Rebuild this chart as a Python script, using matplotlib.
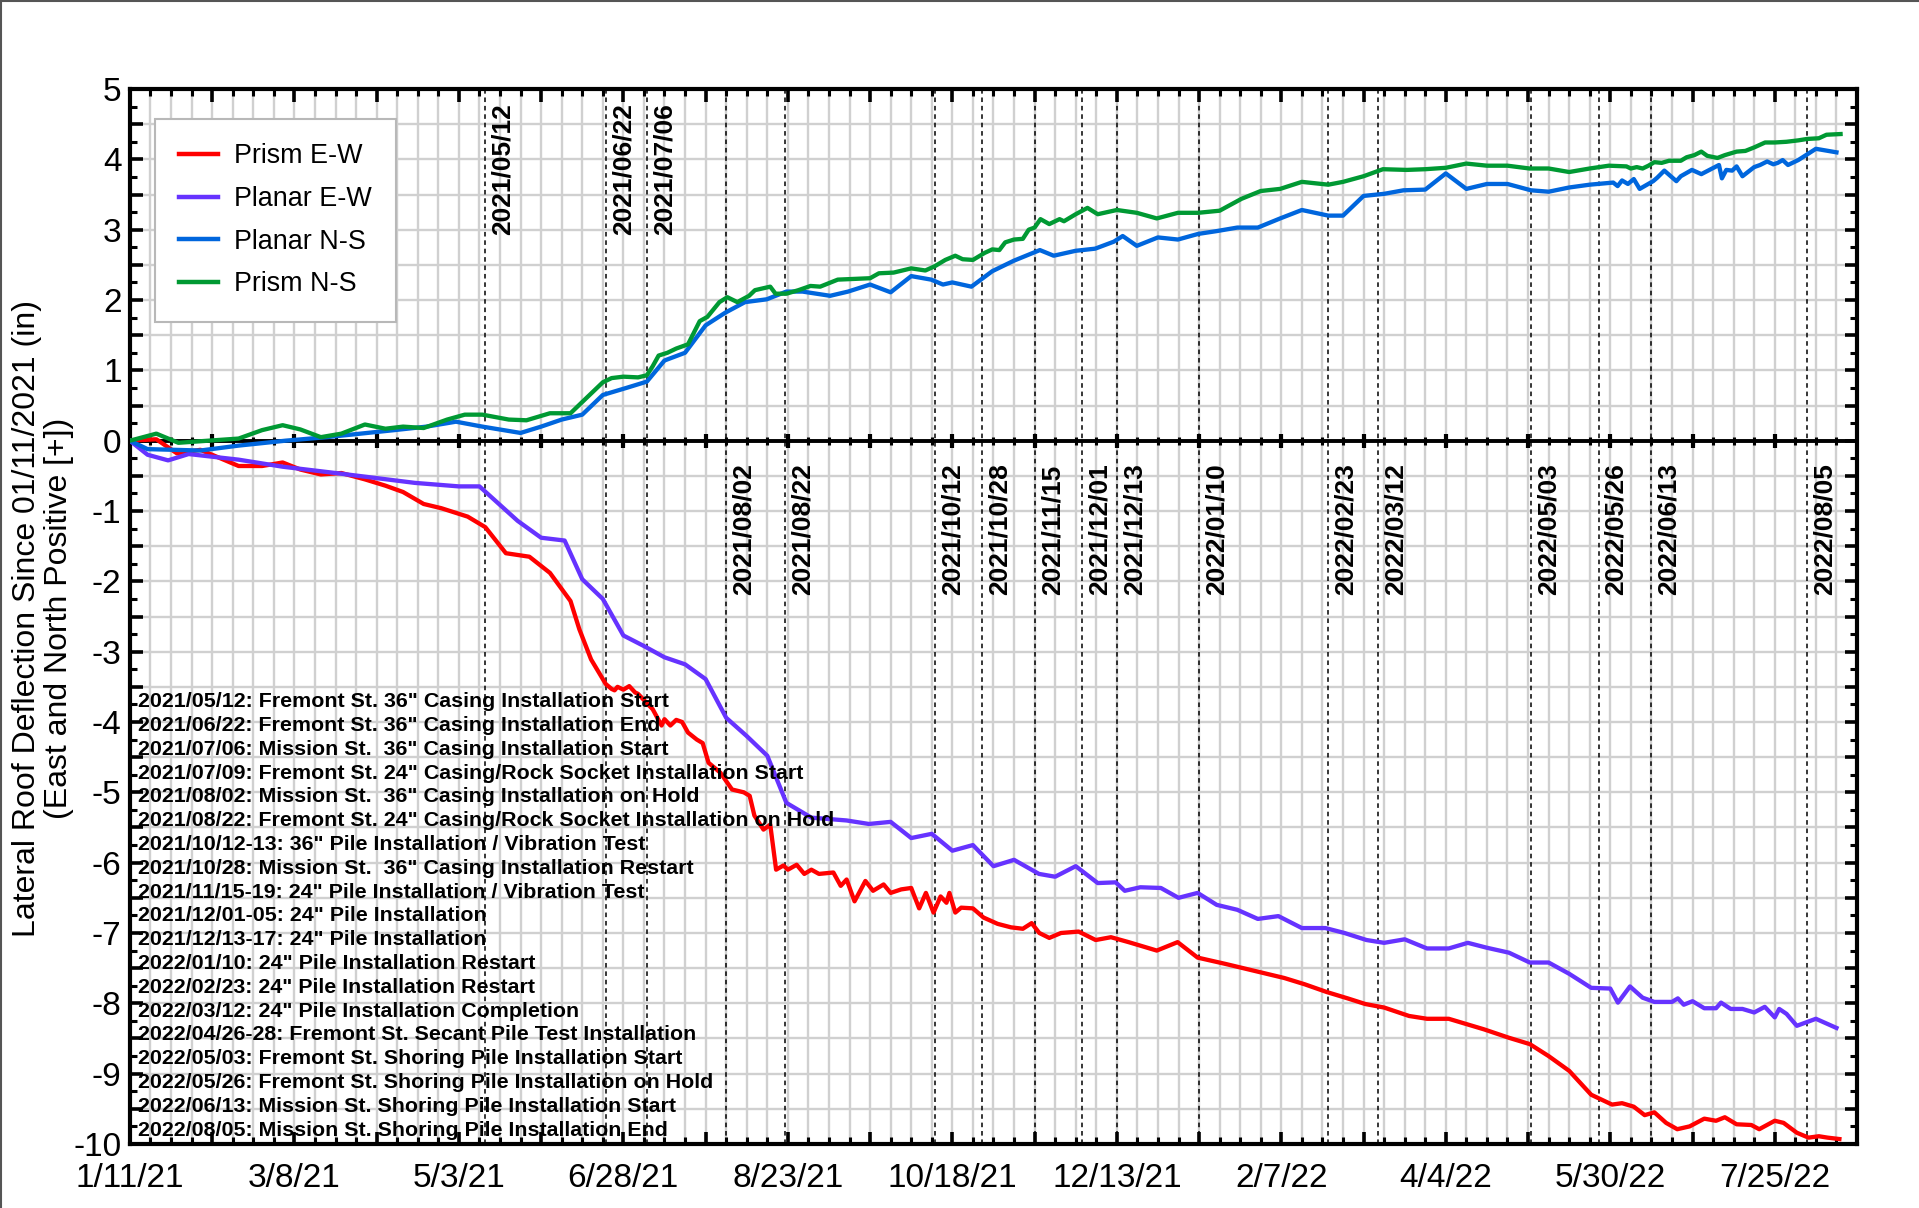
import numpy as np
import matplotlib
matplotlib.use("Agg")
import matplotlib.pyplot as plt
import matplotlib.dates as mdates
from matplotlib.ticker import FixedLocator, FuncFormatter, MultipleLocator
from matplotlib.lines import Line2D
import datetime as dt

plt.rcParams['font.family'] = ['Liberation Sans', 'DejaVu Sans']
plt.rcParams['axes.unicode_minus'] = False

# day 0 = 1/11/21
start = dt.date(2021, 1, 11)
end_day = 588

# ---- Prism E-W (red)
ew_prism_d = [0, 9, 16, 24, 37, 45, 52, 58, 65, 72, 80, 87, 93, 100, 106, 115, 121, 128, 136, 143,
              150, 153, 157, 162, 164, 165, 166, 167, 168, 170, 172, 173, 178, 181, 182, 184, 186, 188,
              190, 193, 195, 197, 201, 205, 209, 211, 212.6, 215.7, 218, 220, 222.5, 224, 227, 229.6,
              232, 234.6, 239.5, 242, 244, 246.7, 250.4, 253, 256.6, 259, 262.6, 266, 268.7, 271,
              273.6, 276, 278, 279, 281, 283, 287, 290.6, 295.4, 300, 304, 307, 309.6, 313, 317, 323,
              328.8, 334, 340, 349.6, 356.7, 363.5, 373, 383, 393, 400, 407.5, 414.6, 420.6, 427,
              435.5, 441.6, 449, 461, 469.5, 476.6, 483, 490, 497.5, 504.6, 508, 512, 515.7, 519, 523,
              526.8, 531, 536, 540, 543, 547, 552, 554.7, 560, 563, 567.5, 571.5, 575, 578, 582]
ew_prism_v = [0, 0.02, -0.18, -0.13, -0.36, -0.36, -0.31, -0.41, -0.48, -0.46, -0.55, -0.64, -0.73,
              -0.90, -0.96, -1.08, -1.23, -1.60, -1.65, -1.88, -2.28, -2.68, -3.11, -3.46, -3.53, -3.55,
              -3.50, -3.52, -3.54, -3.49, -3.58, -3.60, -3.82, -4.05, -3.96, -4.05, -3.97, -4.00, -4.15,
              -4.25, -4.30, -4.58, -4.72, -4.96, -5.00, -5.05, -5.33, -5.53, -5.46, -6.10, -6.04,
              -6.10, -6.03, -6.16, -6.10, -6.16, -6.14, -6.33, -6.24, -6.55, -6.26, -6.40, -6.31,
              -6.43, -6.38, -6.36, -6.65, -6.43, -6.71, -6.48, -6.57, -6.43, -6.71, -6.64, -6.65,
              -6.78, -6.87, -6.92, -6.94, -6.86, -7.00, -7.07, -7.00, -6.98, -7.10, -7.06, -7.13,
              -7.25, -7.13, -7.35, -7.44, -7.54, -7.64, -7.73, -7.84, -7.93, -8.01, -8.06, -8.18,
              -8.22, -8.22, -8.37, -8.49, -8.58, -8.75, -8.96, -9.30, -9.44, -9.42, -9.47, -9.59,
              -9.55, -9.70, -9.79, -9.75, -9.64, -9.67, -9.62, -9.72, -9.73, -9.79, -9.67, -9.70,
              -9.84, -9.91, -9.89, -9.91, -9.93]

# ---- Planar E-W (purple)
ew_planar_d = [0, 6, 13, 20, 37, 52, 72, 97, 112, 119, 132, 140, 148, 154, 161, 168, 175, 182, 189,
               196, 203, 210, 217, 223.5, 232, 244, 251.6, 259, 266, 273, 280, 287, 294, 301, 309.5,
               315, 322, 329.5, 335.6, 338.7, 344, 351, 357, 363.5, 370, 377, 384, 391, 399, 407,
               413.5, 421, 427, 434, 441.6, 449, 455.5, 462, 469.5, 476.6, 483, 490, 497.5, 504,
               506.6, 510.7, 515, 519, 525, 527, 529, 532, 536, 540, 541.7, 545, 549, 553, 556.6,
               560, 561.5, 564, 567.5, 574, 581]
ew_planar_v = [0, -0.20, -0.28, -0.19, -0.27, -0.37, -0.47, -0.60, -0.65, -0.65, -1.14, -1.38, -1.42,
               -1.97, -2.25, -2.77, -2.92, -3.08, -3.18, -3.39, -3.94, -4.20, -4.48, -5.15, -5.36,
               -5.40, -5.45, -5.42, -5.65, -5.59, -5.83, -5.75, -6.05, -5.96, -6.16, -6.20, -6.05,
               -6.29, -6.28, -6.40, -6.35, -6.36, -6.50, -6.43, -6.60, -6.67, -6.80, -6.76, -6.93,
               -6.93, -7.00, -7.10, -7.14, -7.09, -7.22, -7.22, -7.14, -7.21, -7.28, -7.42, -7.42,
               -7.58, -7.78, -7.79, -7.99, -7.76, -7.92, -7.98, -7.98, -7.93, -8.02, -7.97, -8.07,
               -8.07, -7.99, -8.08, -8.08, -8.13, -8.05, -8.20, -8.08, -8.15, -8.32, -8.22, -8.35]

# ---- Planar N-S (blue)
ns_planar_d = [0, 6, 24, 37, 53, 67, 90, 101, 111, 120, 133, 140, 147, 154, 161, 169, 176, 182, 189,
               196, 202.7, 209.4, 216.8, 223.5, 229, 238.4, 244.5, 252, 259, 266, 272.8, 276.8, 280,
               286.5, 293.6, 301, 309.8, 314.5, 322, 328.6, 335, 338, 342.8, 350, 356.8, 363.7, 370,
               377, 384, 391.6, 399, 408, 413, 420, 427, 433.6, 441, 448, 455, 462, 469, 477, 483,
               490, 497, 505, 506.5, 508, 510, 512, 514, 518.6, 520, 522.4, 526.5, 528, 531.8, 535,
               541, 542, 543.5, 545.5, 547, 549, 553, 555, 557.4, 559.5, 561, 562.7, 564.5, 568,
               574, 581]
ns_planar_v = [0, -0.12, -0.14, -0.07, 0.0, 0.05, 0.15, 0.20, 0.27, 0.20, 0.11, 0.20, 0.30, 0.37,
               0.65, 0.75, 0.84, 1.14, 1.25, 1.64, 1.82, 1.97, 2.01, 2.12, 2.12, 2.06, 2.12, 2.22,
               2.11, 2.34, 2.29, 2.22, 2.25, 2.19, 2.41, 2.56, 2.71, 2.63, 2.70, 2.73, 2.83, 2.91,
               2.77, 2.89, 2.86, 2.94, 2.98, 3.03, 3.03, 3.16, 3.28, 3.20, 3.20, 3.48, 3.51, 3.56,
               3.57, 3.80, 3.58, 3.65, 3.65, 3.56, 3.54, 3.60, 3.64, 3.67, 3.62, 3.70, 3.65, 3.72,
               3.58, 3.69, 3.74, 3.84, 3.69, 3.76, 3.85, 3.79, 3.92, 3.73, 3.85, 3.84, 3.90, 3.76,
               3.89, 3.92, 3.97, 3.93, 3.95, 3.99, 3.92, 3.99, 4.15, 4.10]

# ---- Prism N-S (green)
ns_prism_d = [0, 9, 16.5, 37, 45, 52, 58, 65, 72, 80, 87, 93, 100, 108, 114, 120, 129, 135, 143, 150,
              161, 164, 168, 173, 176, 178, 180, 183, 186, 190, 194, 196.6, 200.7, 203.4, 206.8,
              210.8, 212.8, 218, 219.8, 223.5, 227.6, 231.7, 235, 241, 246.5, 252, 255, 260, 266,
              270.8, 274, 277.6, 281, 283.5, 287, 291, 293.6, 296, 298, 301, 304, 306, 308, 310,
              313, 316.5, 318, 322, 326, 329.5, 336, 342.8, 349.6, 356.8, 363.7, 371, 378.5, 385,
              391.6, 399, 408, 413, 420, 426.6, 434.7, 441, 448, 455, 462, 469, 476.5, 483, 490,
              497, 503.5, 509.5, 511, 513, 515, 517, 519, 521.5, 524, 528, 530, 532.6, 535, 537,
              540.5, 543, 547, 550, 553, 556.7, 560, 564, 568, 571, 575, 577.6, 582.4]
ns_prism_v = [0, 0.10, -0.03, 0.03, 0.15, 0.22, 0.16, 0.05, 0.10, 0.23, 0.17, 0.20, 0.18, 0.30, 0.37,
              0.37, 0.30, 0.29, 0.39, 0.39, 0.83, 0.89, 0.91, 0.90, 0.93, 1.06, 1.21, 1.25, 1.31,
              1.37, 1.70, 1.76, 1.97, 2.04, 1.97, 2.06, 2.14, 2.19, 2.09, 2.09, 2.14, 2.20, 2.19,
              2.29, 2.30, 2.31, 2.38, 2.39, 2.45, 2.42, 2.48, 2.57, 2.63, 2.58, 2.57, 2.67, 2.72,
              2.71, 2.82, 2.86, 2.87, 3.00, 3.03, 3.15, 3.08, 3.15, 3.12, 3.22, 3.31, 3.22, 3.28,
              3.24, 3.16, 3.24, 3.24, 3.27, 3.44, 3.55, 3.58, 3.68, 3.64, 3.68, 3.76, 3.86, 3.85,
              3.86, 3.88, 3.94, 3.91, 3.91, 3.87, 3.87, 3.82, 3.87, 3.91, 3.90, 3.87, 3.89, 3.87,
              3.91, 3.96, 3.95, 3.98, 3.98, 4.03, 4.06, 4.11, 4.05, 4.02, 4.06, 4.11, 4.12, 4.17,
              4.24, 4.24, 4.25, 4.27, 4.29, 4.30, 4.35, 4.36]

# ---- construction events (dashed lines + vertical labels)
event_dates = ["2021/05/12", "2021/06/22", "2021/07/06", "2021/08/02", "2021/08/22", "2021/10/12",
               "2021/10/28", "2021/11/15", "2021/12/01", "2021/12/13", "2022/01/10", "2022/02/23",
               "2022/03/12", "2022/05/03", "2022/05/26", "2022/06/13", "2022/08/05"]
upper_labels = ["2021/05/12", "2021/06/22", "2021/07/06"]

notes = ['2021/05/12: Fremont St. 36" Casing Installation Start',
         '2021/06/22: Fremont St. 36" Casing Installation End',
         '2021/07/06: Mission St.  36" Casing Installation Start',
         '2021/07/09: Fremont St. 24" Casing/Rock Socket Installation Start',
         '2021/08/02: Mission St.  36" Casing Installation on Hold',
         '2021/08/22: Fremont St. 24" Casing/Rock Socket Installation on Hold',
         '2021/10/12-13: 36" Pile Installation / Vibration Test',
         '2021/10/28: Mission St.  36" Casing Installation Restart',
         '2021/11/15-19: 24" Pile Installation / Vibration Test',
         '2021/12/01-05: 24" Pile Installation',
         '2021/12/13-17: 24" Pile Installation',
         '2022/01/10: 24" Pile Installation Restart',
         '2022/02/23: 24" Pile Installation Restart',
         '2022/03/12: 24" Pile Installation Completion',
         '2022/04/26-28: Fremont St. Secant Pile Test Installation',
         '2022/05/03: Fremont St. Shoring Pile Installation Start',
         '2022/05/26: Fremont St. Shoring Pile Installation on Hold',
         '2022/06/13: Mission St. Shoring Pile Installation Start',
         '2022/08/05: Mission St. Shoring Pile Installation End']


t0 = mdates.date2num(start)

def days2num(d):
    return t0 + np.asarray(d, dtype=float)


fig = plt.figure(figsize=(19.19, 12.08), dpi=100)
ax = fig.add_axes([0.0677, 0.053, 0.9, 0.8733])

# grid
ax.set_axisbelow(True)
ax.xaxis.set_major_locator(FixedLocator(t0 + np.arange(0, end_day + 1, 28)))
ax.xaxis.set_minor_locator(FixedLocator(t0 + np.arange(0, end_day + 1, 7)))
ax.yaxis.set_major_locator(MultipleLocator(0.5))
ax.yaxis.set_minor_locator(MultipleLocator(0.25))
ax.grid(which='both', axis='x', color='#d0d0d0', lw=1.7)
ax.grid(which='major', axis='y', color='#d0d0d0', lw=1.7)

# event lines
for e in event_dates:
    d = mdates.date2num(dt.datetime.strptime(e, "%Y/%m/%d"))
    ax.axvline(d, color='black', lw=1.1, dashes=(3, 2.5), zorder=2)
    yb = 2.92 if e in upper_labels else -2.2
    ax.annotate(e, xy=(d, yb), xytext=(4, 0), textcoords='offset points', rotation=90,
                ha='left', va='bottom', fontsize=19, fontweight='bold', zorder=5)

# zero line with its own ticks
ax.axhline(0, color='black', lw=2.8, zorder=3)
wk = t0 + np.arange(7, end_day, 7)
ax.plot(wk, np.zeros(len(wk)), ls='none', marker='|', ms=6, mew=2.2, color='black', zorder=3)
mj = t0 + np.arange(28, end_day, 28)
ax.plot(mj, np.zeros(len(mj)), ls='none', marker='|', ms=10, mew=3, color='black', zorder=3)

# data
ax.plot(days2num(ew_prism_d), ew_prism_v, color='#ff0000', lw=3.1, label='Prism E-W', zorder=4)
ax.plot(days2num(ew_planar_d), ew_planar_v, color='#6633ff', lw=3.1, label='Planar E-W', zorder=4)
ax.plot(days2num(ns_planar_d), ns_planar_v, color='#0066dd', lw=3.1, label='Planar N-S', zorder=4)
ax.plot(days2num(ns_prism_d), ns_prism_v, color='#009933', lw=3.1, label='Prism N-S', zorder=4)

# notes block
for i, n in enumerate(notes):
    ax.text(t0 + 2.8, -3.71 - i * 0.3385, n, fontsize=15.4, fontweight='bold',
            ha='left', va='center', zorder=6)

ax.set_xlim(t0, t0 + end_day)
ax.set_ylim(-10, 5)


def xfmt(x, pos):
    d = mdates.num2date(x)
    k = int(round(x - t0))
    if k % 56 != 0:
        return ''
    return f"{d.month}/{d.day}/{d.year % 100}"


def yfmt(y, pos):
    if abs(y - round(y)) > 1e-6:
        return ''
    return f"{int(round(y))}"


ax.xaxis.set_major_formatter(FuncFormatter(xfmt))
ax.yaxis.set_major_formatter(FuncFormatter(yfmt))
ax.tick_params(which='both', direction='in', top=True, right=True, color='black')
ax.tick_params(which='major', length=9, width=2.6, labelsize=24)
ax.tick_params(which='minor', length=5, width=2.2)
ax.tick_params(axis='x', which='major', pad=14)
ax.tick_params(axis='y', which='major', pad=6)
for s in ax.spines.values():
    s.set_linewidth(3)

leg = ax.legend(loc='upper left', bbox_to_anchor=(0.0145, 0.9716), borderaxespad=0,
                fontsize=19.4, handlelength=1.45, handletextpad=0.6, labelspacing=0.62,
                borderpad=0.9, fancybox=False, framealpha=1, edgecolor='#b8b8b8')
leg.get_frame().set_linewidth(1.5)
for l in leg.get_lines():
    l.set_linewidth(3.2)

fig.text(0.0141, 0.4878, "Lateral Roof Deflection Since 01/11/2021 (in)", rotation=90,
         ha='center', va='center', fontsize=23)
fig.text(0.0307, 0.4878, "(East and North Positive [+])", rotation=90,
         ha='center', va='center', fontsize=23)

# thin frame around the image (left/top)
fig.add_artist(Line2D([0.0005, 0.0005], [0, 1], transform=fig.transFigure, color='#555555', lw=1.5))
fig.add_artist(Line2D([0, 1], [0.9995, 0.9995], transform=fig.transFigure, color='#555555', lw=1.5))

fig.savefig("out.png", dpi=100)
